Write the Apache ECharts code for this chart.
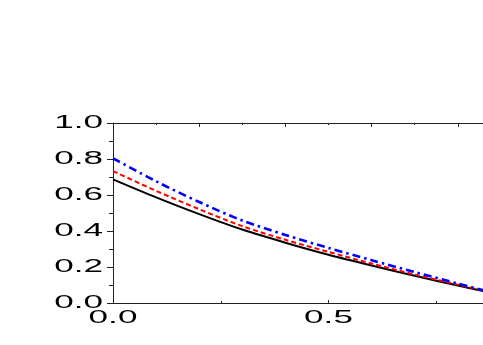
<!DOCTYPE html>
<html>
<head>
<meta charset="utf-8">
<script src="https://cdn.jsdelivr.net/npm/echarts@6/dist/echarts.min.js"></script>
<style>
html,body{margin:0;padding:0;background:#fff;}
#main{width:483px;height:345px;}
</style>
</head>
<body>
<div id="main"></div>
<script>
var xValues = [0, 0.1, 0.2, 0.3, 0.4, 0.5, 0.6, 0.7, 0.8, 0.86];
var blackSolid = [0.687, 0.587, 0.494, 0.408, 0.335, 0.268, 0.208, 0.151, 0.097, 0.066];
var redDashed  = [0.733, 0.623, 0.521, 0.427, 0.351, 0.284, 0.219, 0.158, 0.102, 0.068];
var blueDashDot= [0.804, 0.676, 0.561, 0.458, 0.378, 0.306, 0.238, 0.172, 0.108, 0.071];
var xTickLabels = ['0.0', '0.5'];
var xTickValues = [0, 0.5];
var yTickLabels = ['0.0', '0.2', '0.4', '0.6', '0.8', '1.0'];
var yTickValues = [0, 0.2, 0.4, 0.6, 0.8, 1.0];

function pairs(ys) { return xValues.map(function (x, i) { return [x, ys[i]]; }); }

var chart = echarts.init(document.getElementById('main'), null, {renderer: 'canvas'});
var axisColor = '#222';
chart.setOption({
  animation: false,
  backgroundColor: '#fff',
  grid: {left: 113, top: 123, width: 431, height: 180, containLabel: false, outerBoundsMode: 'none'},
  xAxis: [{
    type: 'value', position: 'bottom', min: 0, max: 1, interval: 0.5,
    axisLine: {show: true, lineStyle: {color: axisColor, width: 1}},
    axisTick: {show: true, inside: true, length: 3, lineStyle: {color: axisColor}},
    minorTick: {show: true, splitNumber: 2, length: 2, lineStyle: {color: axisColor}},
    axisLabel: {show: false},
    splitLine: {show: false}
  }, {
    type: 'value', position: 'top', min: 0, max: 1, interval: 0.2,
    axisLine: {show: true, onZero: false, lineStyle: {color: axisColor, width: 1}},
    axisTick: {show: true, inside: true, length: 4, lineStyle: {color: axisColor}},
    minorTick: {show: true, splitNumber: 2, length: 2, lineStyle: {color: axisColor}},
    axisLabel: {show: false},
    splitLine: {show: false}
  }],
  yAxis: [{
    type: 'value', min: 0, max: 1, interval: 0.2,
    axisLine: {show: true, lineStyle: {color: axisColor, width: 1}},
    axisTick: {show: true, inside: false, length: 6, lineStyle: {color: axisColor}},
    minorTick: {show: true, splitNumber: 2, length: 4, lineStyle: {color: axisColor}},
    axisLabel: {show: false},
    splitLine: {show: false}
  }],
  series: [{
    type: 'line', xAxisIndex: 0, data: pairs(blackSolid), showSymbol: false, smooth: 0.3,
    lineStyle: {color: '#000', width: 2, type: 'solid'}
  }, {
    type: 'line', xAxisIndex: 0, data: pairs(redDashed), showSymbol: false, smooth: 0.3,
    lineStyle: {color: '#ff0000', width: 2, type: [5, 3]}
  }, {
    type: 'line', xAxisIndex: 0, data: pairs(blueDashDot), showSymbol: false, smooth: 0.3,
    lineStyle: {color: '#0000ff', width: 2.6, type: [8, 4, 2.5, 4]}
  }]
});

var labelFont = '18px "Liberation Sans", Arial, sans-serif';
var stretch = 1.95;
var g = [];
yTickValues.forEach(function (v, i) {
  var py = chart.convertToPixel({yAxisIndex: 0}, v);
  var px = chart.convertToPixel({xAxisIndex: 0}, 0);
  g.push({type: 'text', x: px - 10, y: py, scaleX: stretch, scaleY: 1, silent: true,
    style: {text: yTickLabels[i], font: labelFont, fill: '#000', align: 'right', verticalAlign: 'middle'}});
});
xTickValues.forEach(function (v, i) {
  var px = chart.convertToPixel({xAxisIndex: 0}, v);
  var py = chart.convertToPixel({yAxisIndex: 0}, 0);
  g.push({type: 'text', x: px, y: py + 15, scaleX: stretch, scaleY: 1, silent: true,
    style: {text: xTickLabels[i], font: labelFont, fill: '#000', align: 'center', verticalAlign: 'middle'}});
});
chart.setOption({graphic: g});
</script>
</body>
</html>
